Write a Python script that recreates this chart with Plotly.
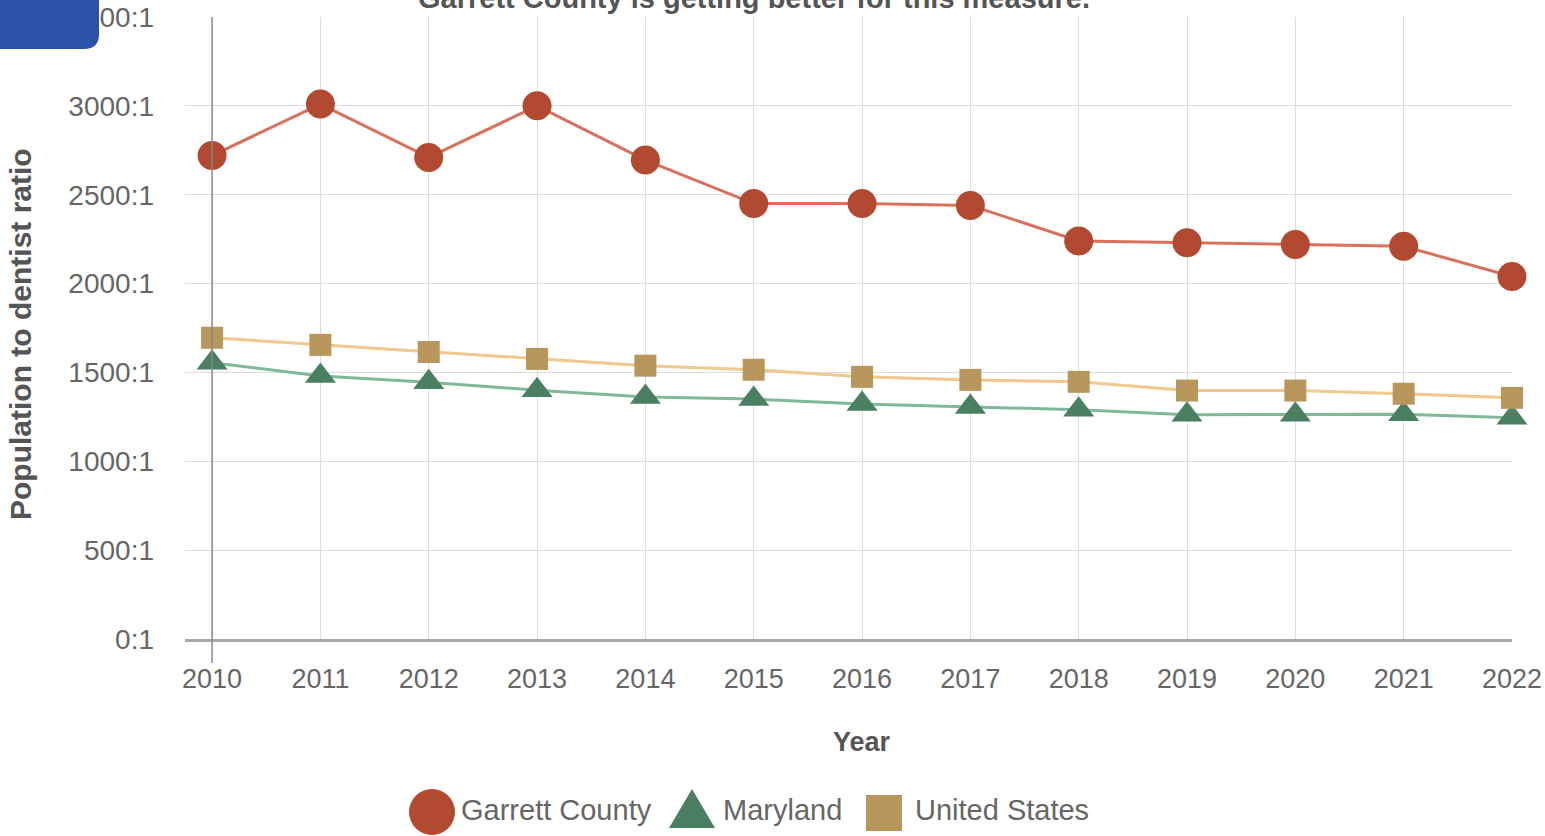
import plotly.graph_objects as go

years = list(range(2010, 2023))
garrett = [2720, 3010, 2710, 3000, 2695, 2450, 2450, 2440, 2240, 2230, 2220, 2210, 2040]
maryland = [1555, 1480, 1445, 1400, 1362, 1350, 1322, 1305, 1290, 1262, 1262, 1265, 1245]
united_states = [1695, 1655, 1615, 1576, 1538, 1515, 1475, 1458, 1447, 1398, 1398, 1380, 1357]
y_ticks = [0, 500, 1000, 1500, 2000, 2500, 3000, 3500]
y_tick_text = [f"{v}:1" for v in y_ticks]
series_names = ["Garrett County", "Maryland", "United States"]
title_text = "Garrett County is getting better for this measure."

W, H = 1545, 836
L, R, T, B = 185, 33, 17, 197
PW, PH = W - L - R, H - T - B


def px(x):
    return (x - L) / PW


def py(y):
    return (H - B - y) / PH


colors_line = ["#d9705c", "#80b89a", "#f1c98e"]
colors_mark = ["#b24a32", "#4b7f62", "#b9965c"]

fig = go.Figure()
fig.add_trace(go.Scatter(
    x=years, y=garrett, name=series_names[0], mode="lines+markers",
    line=dict(color=colors_line[0], width=3),
    marker=dict(symbol="circle", size=29, color=colors_mark[0]),
    cliponaxis=False, showlegend=False))
fig.add_trace(go.Scatter(
    x=years, y=maryland, name=series_names[1], mode="lines+markers",
    line=dict(color=colors_line[1], width=3),
    marker=dict(symbol="triangle-up", size=27, color=colors_mark[1]),
    cliponaxis=False, showlegend=False))
fig.add_trace(go.Scatter(
    x=years, y=united_states, name=series_names[2], mode="lines+markers",
    line=dict(color=colors_line[2], width=3),
    marker=dict(symbol="square", size=22, color=colors_mark[2]),
    cliponaxis=False, showlegend=False))

font_fam = "Arial, Liberation Sans, sans-serif"

# manual legend (glyphs + labels), positioned in pixels
legend_shapes = [
    dict(type="circle", xref="paper", yref="paper", layer="above",
         x0=px(409), x1=px(455), y0=py(789), y1=py(835),
         fillcolor=colors_mark[0], line=dict(width=0)),
    dict(type="path", xref="paper", yref="paper", layer="above",
         path=f"M {px(692)},{py(789)} L {px(715)},{py(828)} L {px(669)},{py(828)} Z",
         fillcolor=colors_mark[1], line=dict(width=0)),
    dict(type="rect", xref="paper", yref="paper", layer="above",
         x0=px(866), x1=px(902), y0=py(795), y1=py(831),
         fillcolor=colors_mark[2], line=dict(width=0)),
]
legend_text_x = [459, 721, 913]
legend_annotations = [
    dict(text=n, xref="paper", yref="paper", x=px(lx), y=py(810),
         xanchor="left", yanchor="middle", showarrow=False,
         font=dict(size=29, color="#666666"))
    for n, lx in zip(series_names, legend_text_x)
]

fig.update_layout(
    width=W, height=H,
    margin=dict(l=L, r=R, t=T, b=B, autoexpand=False),
    paper_bgcolor="white", plot_bgcolor="white",
    font=dict(family=font_fam, color="#666666", size=27),
    showlegend=False,
    xaxis=dict(range=[2009.75, 2022], tickvals=years, ticktext=[str(y) for y in years],
               showgrid=True, gridcolor="#dcdcdc", gridwidth=1,
               showline=True, linecolor="#a9a9a9", linewidth=3,
               zeroline=False, ticks="", ticklabelstandoff=14, automargin=False,
               tickfont=dict(size=27, color="#666666")),
    yaxis=dict(range=[0, 3500], tickvals=y_ticks, ticktext=y_tick_text,
               showgrid=True, gridcolor="#dcdcdc", gridwidth=1,
               zeroline=False, ticks="", ticklabelstandoff=30, automargin=False,
               tickfont=dict(size=28, color="#666666")),
    annotations=[
        dict(text="<b>Year</b>", xref="paper", yref="paper", x=px(862), y=py(742),
             xanchor="center", yanchor="middle", showarrow=False,
             font=dict(size=27, color="#555555")),
        dict(text="<b>Population to dentist ratio</b>", xref="paper", yref="paper",
             x=px(20), y=py(334), xanchor="center", yanchor="middle", textangle=-90,
             showarrow=False, font=dict(size=30, color="#555555")),
        dict(text="<b>" + title_text + "</b>", xref="paper", yref="paper", x=px(754), y=py(-2),
             xanchor="center", yanchor="middle", showarrow=False,
             font=dict(size=29, color="#555555")),
    ] + legend_annotations,
    shapes=[
        dict(type="line", xref="x", yref="paper", x0=2010, x1=2010, y0=py(663), y1=1,
             line=dict(color="#8a8a8a", width=1.5), layer="above"),
        dict(type="path", xref="paper", yref="paper", layer="above",
             path=(f"M {px(0)},{py(0)} L {px(99)},{py(0)} L {px(99)},{py(34)} "
                   f"Q {px(99)},{py(49)} {px(84)},{py(49)} L {px(0)},{py(49)} Z"),
             fillcolor="#2a53a8", line=dict(width=0)),
    ] + legend_shapes,
)

fig.write_html(
    "out.html",
    config={"displayModeBar": False},
    post_script="document.body.style.margin='0px';document.body.style.overflow='hidden';",
)
